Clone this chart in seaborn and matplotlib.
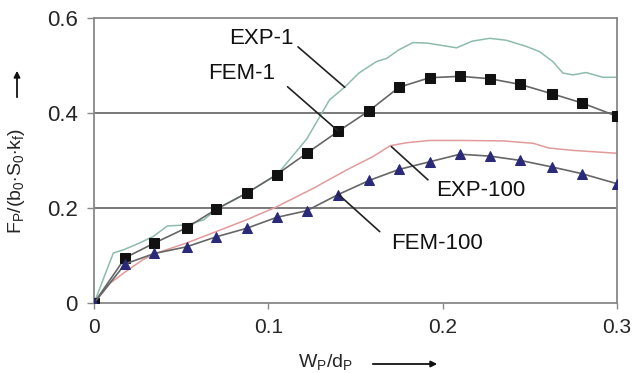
"""Normalised punch force vs. relative punch travel: FEM vs. experiment."""
import matplotlib
matplotlib.use('Agg')
import matplotlib.pyplot as plt
import pandas as pd
import seaborn as sns

# FEM results (markers)
fem_x = [0, 0.0178, 0.0346, 0.053, 0.070, 0.0875, 0.1047, 0.122, 0.140,
         0.158, 0.175, 0.1925, 0.210, 0.227, 0.2445, 0.263, 0.280, 0.300]
fem1_y = [0, 0.095, 0.126, 0.158, 0.197, 0.231, 0.270, 0.315, 0.361,
          0.405, 0.454, 0.474, 0.477, 0.472, 0.460, 0.440, 0.421, 0.393]
fem100_y = [0, 0.082, 0.104, 0.118, 0.139, 0.157, 0.180, 0.194, 0.228,
            0.258, 0.281, 0.297, 0.313, 0.309, 0.300, 0.286, 0.272, 0.251]

# Experimental curves (thin lines)
exp1_x = [0, 0.011, 0.017, 0.026, 0.034, 0.042, 0.053, 0.063, 0.070, 0.088,
          0.105, 0.122, 0.1295, 0.135, 0.144, 0.152, 0.162, 0.168, 0.175,
          0.183, 0.191, 0.198, 0.208, 0.217, 0.227, 0.2365, 0.248, 0.2556,
          0.2633, 0.269, 0.2747, 0.2823, 0.2919, 0.300]
exp1_y = [0, 0.105, 0.112, 0.126, 0.140, 0.162, 0.164, 0.175, 0.197, 0.232,
          0.270, 0.345, 0.392, 0.427, 0.455, 0.484, 0.508, 0.515, 0.533,
          0.548, 0.547, 0.543, 0.537, 0.551, 0.557, 0.553, 0.540, 0.529,
          0.508, 0.484, 0.480, 0.485, 0.475, 0.475]
exp100_x = [0, 0.009, 0.017, 0.028, 0.036, 0.053, 0.070, 0.0875, 0.104,
            0.1257, 0.145, 0.160, 0.170, 0.179, 0.1925, 0.210, 0.235, 0.252,
            0.261, 0.275, 0.300]
exp100_y = [0, 0.041, 0.063, 0.091, 0.105, 0.126, 0.150, 0.175, 0.201,
            0.241, 0.280, 0.308, 0.331, 0.337, 0.342, 0.342, 0.341, 0.336,
            0.326, 0.321, 0.315]

# Leader-line labels: text, text position, line start, line end
labels = ['EXP-1', 'FEM-1', 'EXP-100', 'FEM-100']
label_xy = [(0.0957, 0.557), (0.0848, 0.482), (0.222, 0.236), (0.1966, 0.124)]
line_from = [(0.117, 0.539), (0.111, 0.455), (0.1916, 0.259), (0.1639, 0.150)]
line_to = [(0.1438, 0.454), (0.140, 0.362), (0.1706, 0.329), (0.140, 0.229)]

sns.set_style('white')
plt.rcParams['font.family'] = ['Liberation Sans', 'DejaVu Sans']
plt.rcParams['mathtext.fontset'] = 'custom'
plt.rcParams['mathtext.rm'] = 'Liberation Sans'
plt.rcParams['mathtext.it'] = 'Liberation Sans:italic'

fig, ax = plt.subplots(figsize=(6.32, 3.73), dpi=100)
fig.subplots_adjust(left=0.149, right=0.976, bottom=0.188, top=0.952)

for yv in (0.2, 0.4):
    ax.axhline(yv, color='#555555', linewidth=1.1, zorder=0)

exp1 = pd.DataFrame({'x': exp1_x, 'y': exp1_y})
exp100 = pd.DataFrame({'x': exp100_x, 'y': exp100_y})
fem1 = pd.DataFrame({'x': fem_x, 'y': fem1_y})
fem100 = pd.DataFrame({'x': fem_x, 'y': fem100_y})

sns.lineplot(data=exp1, x='x', y='y', ax=ax, color='#8dbcab', linewidth=1.1,
             sort=False, estimator=None, zorder=2)
sns.lineplot(data=exp100, x='x', y='y', ax=ax, color='#e39a9a', linewidth=1.1,
             sort=False, estimator=None, zorder=2)
sns.lineplot(data=fem1, x='x', y='y', ax=ax, color='#666666', linewidth=1.2,
             marker='s', markersize=7, markerfacecolor='#111111',
             markeredgecolor='#111111', sort=False, estimator=None, zorder=3)
sns.lineplot(data=fem100, x='x', y='y', ax=ax, color='#666666', linewidth=1.2,
             marker='^', markersize=7, markerfacecolor='#2a2a78',
             markeredgecolor='#2a2a78', sort=False, estimator=None, zorder=3)

for text, txy, p0, p1 in zip(labels, label_xy, line_from, line_to):
    ax.text(txy[0], txy[1], text, ha='center', va='center', fontsize=16,
            color='#111111')
    ax.plot([p0[0], p1[0]], [p0[1], p1[1]], color='#222222', linewidth=1.2,
            zorder=4)

ax.set_xlim(0, 0.3)
ax.set_ylim(0, 0.6)
ax.set_xticks([0, 0.1, 0.2, 0.3])
ax.set_xticklabels(['0', '0.1', '0.2', '0.3'])
ax.set_yticks([0, 0.2, 0.4, 0.6])
ax.set_yticklabels(['0', '0.2', '0.4', '0.6'])
ax.tick_params(axis='x', labelsize=15, length=4, width=1, color='#888888',
               pad=7, direction='out', bottom=True)
ax.tick_params(axis='y', labelsize=16, length=5, width=1, color='#888888',
               pad=7, direction='out', left=True)
for side in ax.spines.values():
    side.set_color('#888888')
    side.set_linewidth(1.3)
ax.set_xlabel('')
ax.set_ylabel('')

# Axis labels with direction arrows
fig.text(17 / 632, 1 - 181 / 373,
         r'F$_\mathrm{P}$/(b$_0$$\cdot$S$_0$$\cdot$k$_\mathrm{f}$)',
         rotation=90, ha='center', va='center', fontsize=14)
fig.text(325 / 632, 1 - 362 / 373, r'W$_\mathrm{P}$/d$_\mathrm{P}$',
         ha='center', va='center', fontsize=14)
fig.patches.append(matplotlib.patches.FancyArrowPatch(
    (17 / 632, 1 - 100 / 373), (17 / 632, 1 - 68 / 373),
    transform=fig.transFigure, arrowstyle='-|>', mutation_scale=9,
    color='#111111', linewidth=1.3))
fig.patches.append(matplotlib.patches.FancyArrowPatch(
    (370 / 632, 1 - 364 / 373), (440 / 632, 1 - 364 / 373),
    transform=fig.transFigure, arrowstyle='-|>', mutation_scale=9,
    color='#111111', linewidth=1.3))

fig.savefig('out.png', dpi=100)
plt.close(fig)
